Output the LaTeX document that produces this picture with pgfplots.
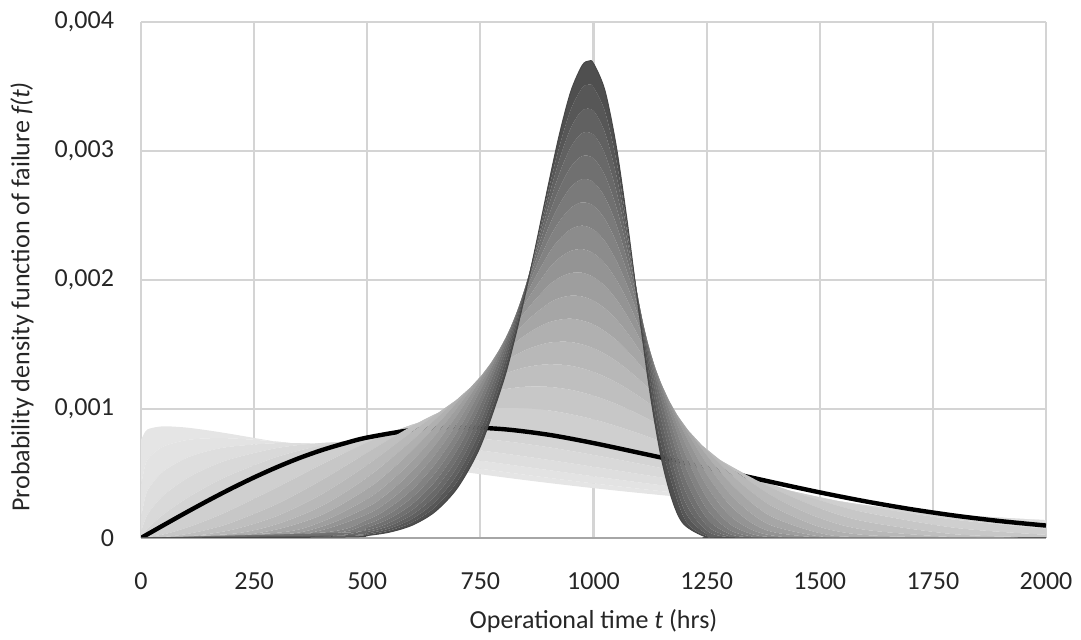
\documentclass[border=0pt]{standalone}
\usepackage{fontspec}
\setmainfont{Carlito}
\usepackage{pgfplots}
\pgfplotsset{compat=1.18}
\usepgfplotslibrary{fillbetween}
\begin{document}
\begin{tikzpicture}
\tikzset{fill between/on layer=main}
\begin{axis}[
  scale only axis, width=452.5pt, height=258pt,
  xmin=0, xmax=2000, ymin=0, ymax=4,
  xtick={0,250,500,750,1000,1250,1500,1750,2000},
  xticklabels={0,250,500,750,1000,1250,1500,1750,2000},
  ytick={0,1,2,3,4}, yticklabels={0,{0,001},{0,002},{0,003},{0,004}},
  grid=major, major grid style={draw=black!17, line width=1.1pt},
  axis line style={draw=none}, tick style={draw=none},
  ticklabel style={font=\fontsize{13}{15.6}\selectfont, text=black!85},
  xticklabel style={yshift=-14pt},
  yticklabel style={xshift=-10pt},
  xlabel={Operational time \textit{t} (hrs)},
  ylabel={Probability density function of failure \textit{f(t)}},
  label style={font=\fontsize{13}{15.6}\selectfont, text=black!85},
  xlabel style={at={(axis description cs:0.5,-0.161)}, anchor=center},
  ylabel style={at={(axis description cs:-0.1315,0.467)}, anchor=center},
  extra y ticks={0}, extra y tick labels={},
  extra y tick style={grid=major, major grid style={draw=black!35, line width=1.3pt}},
  curve/.style={draw=none, smooth, tension=0.5},
]
% ---- Weibull family curves (values in units of 0.001) ----
\addplot[name path=c105, curve] coordinates {(0,0.76) (10,0.8274) (20,0.8493) (50,0.8659) (100,0.8561) (150,0.8332) (200,0.8056) (300,0.7454) (400,0.6845) (500,0.6257) (600,0.5703) (700,0.5186) (800,0.4707) (900,0.4267) (1000,0.3863) (1100,0.3494) (1200,0.3157) (1300,0.2850) (1400,0.2571) (1500,0.2319) (1600,0.2089) (1800,0.1694) (2000,0.1371)};
\addplot[name path=c115, curve] coordinates {(0,0.41) (10,0.5735) (20,0.6325) (50,0.7107) (100,0.7585) (150,0.7729) (200,0.7720) (300,0.7473) (400,0.7073) (500,0.6605) (600,0.6110) (700,0.5614) (800,0.5131) (900,0.4668) (1000,0.4231) (1100,0.3822) (1200,0.3443) (1300,0.3094) (1400,0.2774) (1500,0.2482) (1600,0.2217) (1800,0.1759) (2000,0.1387)};
\addplot[name path=c130, curve] coordinates {(0,0.16) (10,0.3257) (20,0.3995) (50,0.5186) (100,0.6197) (150,0.6759) (200,0.7090) (300,0.7350) (400,0.7288) (500,0.7035) (600,0.6666) (700,0.6228) (800,0.5754) (900,0.5266) (1000,0.4782) (1100,0.4313) (1200,0.3866) (1300,0.3446) (1400,0.3056) (1500,0.2698) (1600,0.2372) (1800,0.1811) (2000,0.1364)};
\addplot[name path=c150, curve] coordinates {(0,0.05) (10,0.1499) (20,0.2115) (50,0.3317) (100,0.4596) (150,0.5482) (200,0.6134) (300,0.6971) (400,0.7366) (500,0.7448) (600,0.7300) (700,0.6987) (800,0.6560) (900,0.6059) (1000,0.5518) (1100,0.4963) (1200,0.4414) (1300,0.3885) (1400,0.3386) (1500,0.2926) (1600,0.2507) (1800,0.1799) (2000,0.1254)};
\addplot[name path=c175, curve] coordinates {(0,0) (10,0.0553) (20,0.0930) (50,0.1841) (100,0.3057) (150,0.4069) (200,0.4930) (300,0.6281) (400,0.7198) (500,0.7729) (600,0.7925) (700,0.7838) (800,0.7524) (900,0.7040) (1000,0.6438) (1100,0.5767) (1200,0.5069) (1300,0.4376) (1400,0.3716) (1500,0.3105) (1600,0.2557) (1800,0.1658) (2000,0.1018)};
\addplot[name path=c200, curve] coordinates {(0,0) (10,0.0200) (20,0.0400) (50,0.0998) (100,0.1980) (150,0.2933) (200,0.3843) (300,0.5484) (400,0.6817) (500,0.7788) (600,0.8372) (700,0.8577) (800,0.8437) (900,0.8007) (1000,0.7358) (1100,0.6560) (1200,0.5686) (1300,0.4798) (1400,0.3944) (1500,0.3162) (1600,0.2474) (1800,0.1410) (2000,0.0733)};
\addplot[name path=c250, curve] coordinates {(0,0) (50,0.0280) (100,0.0788) (150,0.1440) (200,0.2196) (300,0.3910) (400,0.5716) (500,0.7407) (600,0.8792) (700,0.9717) (800,1.0092) (900,0.9898) (1000,0.9197) (1100,0.8108) (1200,0.6785) (1300,0.5394) (1400,0.4073) (1500,0.2919) (1600,0.1985) (1800,0.0782) (2000,0.0247)};
\addplot[name path=c300, curve] coordinates {(0,0) (50,0.0075) (100,0.0300) (150,0.0673) (200,0.1190) (300,0.2628) (400,0.4502) (500,0.6619) (600,0.8702) (700,1.0431) (750,1.1067) (800,1.1507) (850,1.1728) (900,1.1719) (950,1.1487) (1000,1.1036) (1050,1.0395) (1100,0.9591) (1150,0.8669) (1200,0.7676) (1250,0.6650) (1300,0.5635) (1350,0.4670) (1400,0.3781) (1500,0.2310) (1600,0.1278) (1800,0.0285) (2000,0.0040)};
\addplot[name path=c350, curve] coordinates {(0,0) (100,0.0111) (200,0.0624) (300,0.1700) (400,0.3401) (500,0.5664) (600,0.8256) (700,1.0769) (750,1.1832) (800,1.2674) (850,1.3235) (900,1.3468) (950,1.3349) (1000,1.2876) (1050,1.2075) (1100,1.0998) (1150,0.9717) (1200,0.8316) (1250,0.6887) (1300,0.5509) (1400,0.3158) (1500,0.1546) (1600,0.0637) (1800,0.0061) (2000,0)};
\addplot[name path=c400, curve] coordinates {(0,0) (200,0.0319) (300,0.1071) (400,0.2495) (500,0.4697) (600,0.7591) (700,1.0792) (750,1.2298) (800,1.3597) (850,1.4575) (900,1.5130) (950,1.5188) (1000,1.4715) (1050,1.3732) (1100,1.2312) (1150,1.0582) (1200,0.8692) (1250,0.6801) (1300,0.5052) (1350,0.3552) (1400,0.2356) (1500,0.0855) (1600,0.0233) (1800,0.001) (2000,0)};
\addplot[name path=c450, curve] coordinates {(0,0) (200,0.0161) (300,0.0663) (400,0.1792) (500,0.3806) (550,0.5188) (600,0.6810) (650,0.8628) (700,1.0564) (750,1.2501) (800,1.4286) (850,1.5746) (900,1.6702) (950,1.7000) (1000,1.6555) (1050,1.5362) (1100,1.3528) (1150,1.1249) (1200,0.8789) (1250,0.6410) (1300,0.4343) (1350,0.2712) (1400,0.1550) (1500,0.0377) (1600,0.006) (2000,0)};
\addplot[name path=c500, curve] coordinates {(0,0) (300,0.0404) (400,0.1267) (500,0.3029) (550,0.4351) (600,0.5995) (650,0.7948) (700,1.0148) (750,1.2479) (800,1.4758) (850,1.6748) (900,1.8176) (925,1.8597) (950,1.8786) (975,1.8722) (1000,1.8394) (1025,1.7803) (1050,1.6960) (1075,1.5889) (1100,1.4626) (1125,1.3212) (1150,1.1702) (1200,0.8611) (1250,0.5772) (1300,0.3486) (1350,0.1874) (1400,0.0887) (1500,0.0127) (1600,0) (2000,0)};
\addplot[name path=c550, curve] coordinates {(0,0) (300,0.0244) (400,0.0885) (500,0.2378) (550,0.3596) (600,0.5199) (650,0.7209) (700,0.9599) (750,1.2271) (800,1.5031) (850,1.7583) (900,1.9551) (925,2.0191) (950,2.0538) (975,2.0561) (1000,2.0233) (1025,1.9549) (1050,1.8523) (1075,1.7188) (1100,1.5596) (1125,1.3818) (1150,1.1935) (1200,0.8181) (1250,0.4950) (1300,0.2599) (1350,0.1159) (1400,0.0431) (1500,0.0031) (1600,0) (2000,0)};
\addplot[name path=c600, curve] coordinates {(0,0) (300,0.0146) (400,0.0612) (500,0.1846) (550,0.2937) (600,0.4453) (650,0.6456) (700,0.8965) (750,1.1917) (800,1.5127) (850,1.8259) (900,2.0824) (925,2.1718) (950,2.2260) (975,2.2392) (1000,2.2073) (1025,2.1289) (1050,2.0050) (1075,1.8405) (1100,1.6435) (1125,1.4239) (1150,1.1944) (1200,0.7538) (1250,0.4037) (1300,0.1785) (1350,0.0633) (1400,0.0173) (1500,0) (2000,0)};
\addplot[name path=c650, curve] coordinates {(0,0) (400,0.0420) (500,0.1421) (550,0.2377) (600,0.3776) (650,0.5722) (700,0.8284) (750,1.1450) (800,1.5069) (850,1.8781) (900,2.1993) (925,2.3176) (950,2.3946) (975,2.4213) (1000,2.3912) (1025,2.3012) (1050,2.1533) (1075,1.9532) (1100,1.7125) (1125,1.4470) (1150,1.1735) (1200,0.6727) (1250,0.3118) (1300,0.1121) (1350,0.0299) (1400,0.0056) (1500,0) (2000,0)};
\addplot[name path=c700, curve] coordinates {(0,0) (400,0.0287) (500,0.1085) (550,0.1908) (600,0.3176) (650,0.5027) (700,0.7584) (750,1.0902) (800,1.4879) (850,1.9160) (900,2.3059) (925,2.4564) (950,2.5595) (975,2.6023) (1000,2.5752) (1025,2.4729) (1050,2.2970) (1075,2.0559) (1100,1.7665) (1125,1.4506) (1150,1.1324) (1200,0.5807) (1250,0.2269) (1300,0.0636) (1350,0.0120) (1400,0) (2000,0)};
\addplot[name path=c750, curve] coordinates {(0,0) (450,0.0417) (500,0.0824) (550,0.1522) (600,0.2652) (650,0.4384) (700,0.6891) (750,1.0298) (800,1.4578) (850,1.9406) (900,2.4021) (925,2.5879) (950,2.7206) (975,2.7822) (1000,2.7591) (1025,2.6431) (1050,2.4356) (1075,2.1490) (1100,1.8052) (1125,1.4352) (1150,1.0733) (1200,0.4842) (1250,0.1548) (1300,0.0322) (1350,0.004) (1400,0) (2000,0)};
\addplot[name path=c800, curve] coordinates {(0,0) (400,0.0131) (500,0.0623) (550,0.1208) (600,0.2202) (650,0.3799) (700,0.6219) (750,0.9661) (800,1.4186) (850,1.9529) (900,2.4878) (925,2.7122) (950,2.8779) (975,2.9611) (1000,2.9430) (1025,2.8121) (1050,2.5694) (1075,2.2307) (1100,1.8277) (1125,1.4024) (1150,0.9987) (1200,0.3890) (1250,0.0984) (1300,0.0144) (1350,0) (2000,0)};
\addplot[name path=c850, curve] coordinates {(0,0) (450,0.0210) (500,0.0468) (550,0.0954) (600,0.1819) (650,0.3274) (700,0.5581) (750,0.9011) (800,1.3723) (850,1.9542) (900,2.5638) (925,2.8290) (950,3.0306) (975,3.1387) (1000,3.1270) (1025,2.9793) (1050,2.6966) (1075,2.3010) (1100,1.8339) (1125,1.3528) (1150,0.9119) (1200,0.3003) (1250,0.0579) (1300,0.0056) (1350,0) (2000,0)};
\addplot[name path=c900, curve] coordinates {(0,0) (450,0.0151) (500,0.0352) (550,0.0750) (600,0.1497) (650,0.2809) (700,0.4983) (750,0.8358) (800,1.3203) (850,1.9454) (900,2.6299) (925,2.9381) (950,3.1793) (975,3.3150) (1000,3.3109) (1025,3.1454) (1050,2.8187) (1075,2.3603) (1100,1.8247) (1125,1.2876) (1150,0.8169) (1200,0.2224) (1250,0.0312) (1300,0) (2000,0)};
\addplot[name path=c950, curve] coordinates {(0,0) (450,0.0107) (500,0.0262) (550,0.0588) (600,0.1226) (650,0.2400) (700,0.4430) (750,0.7719) (800,1.2644) (850,1.9278) (900,2.6863) (925,3.0400) (950,3.3234) (975,3.4900) (990,3.5143) (1000,3.4949) (1025,3.3100) (1050,2.9342) (1075,2.4065) (1100,1.8011) (1125,1.2107) (1150,0.7165) (1200,0.1571) (1250,0.0153) (1300,0) (2000,0)};
\addplot[name path=c1000, curve] coordinates {(0,0) (450,0.0076) (500,0.0195) (550,0.0460) (600,0.1002) (650,0.2044) (700,0.3923) (750,0.7097) (800,1.2055) (825,1.5300) (850,1.9023) (875,2.3110) (900,2.7338) (925,3.1341) (950,3.4634) (975,3.6634) (990,3.6978) (1000,3.6788) (1025,3.4721) (1050,3.0430) (1075,2.4412) (1100,1.7628) (1125,1.1220) (1150,0.6155) (1175,0.2830) (1200,0.1056) (1250,0.0067) (1300,0) (2000,0)};
% ---- light part of the family ----
\addplot[fill=black!10, draw=none] fill between[of=c105 and c115];
\addplot[fill=black!11, draw=none] fill between[of=c115 and c130];
\addplot[fill=black!13, draw=none] fill between[of=c130 and c150];
\addplot[fill=black!15, draw=none] fill between[of=c150 and c175];
\addplot[fill=black!17, draw=none] fill between[of=c175 and c200];
\addplot[fill=black!19, draw=none] fill between[of=c200 and c250];
\addplot[fill=black!22, draw=none] fill between[of=c250 and c300];
% ---- black curve ----
\addplot[black, line width=2.2pt, smooth] coordinates {(0,0) (50,0.0998) (100,0.198) (150,0.2933) (200,0.3843) (250,0.4697) (300,0.5484) (350,0.6199) (400,0.6817) (450,0.7338) (500,0.7788) (600,0.8372) (700,0.8577) (800,0.8437) (900,0.8007) (1000,0.7358) (1100,0.661) (1200,0.585) (1300,0.507) (1400,0.429) (1500,0.3536) (1600,0.2847) (1700,0.2242) (1800,0.1728) (1900,0.1305) (2000,0.0964)};
% ---- dark part of the family ----
\addplot[fill=black!25, draw=none] fill between[of=c300 and c350];
\addplot[fill=black!28, draw=none] fill between[of=c350 and c400];
\addplot[fill=black!31, draw=none] fill between[of=c400 and c450];
\addplot[fill=black!35, draw=none] fill between[of=c450 and c500];
\addplot[fill=black!38, draw=none] fill between[of=c500 and c550];
\addplot[fill=black!42, draw=none] fill between[of=c550 and c600];
\addplot[fill=black!45, draw=none] fill between[of=c600 and c650];
\addplot[fill=black!49, draw=none] fill between[of=c650 and c700];
\addplot[fill=black!52, draw=none] fill between[of=c700 and c750];
\addplot[fill=black!56, draw=none] fill between[of=c750 and c800];
\addplot[fill=black!59, draw=none] fill between[of=c800 and c850];
\addplot[fill=black!62, draw=none] fill between[of=c850 and c900];
\addplot[fill=black!66, draw=none] fill between[of=c900 and c950];
\addplot[fill=black!69, draw=none] fill between[of=c950 and c1000];
\addplot[black!72, line width=0.5pt, smooth, tension=0.5] coordinates {(0,0) (450,0.0076) (500,0.0195) (550,0.0460) (600,0.1002) (650,0.2044) (700,0.3923) (750,0.7097) (800,1.2055) (825,1.5300) (850,1.9023) (875,2.3110) (900,2.7338) (925,3.1341) (950,3.4634) (975,3.6634) (990,3.6978) (1000,3.6788) (1025,3.4721) (1050,3.0430) (1075,2.4412) (1100,1.7628) (1125,1.1220) (1150,0.6155) (1175,0.2830) (1200,0.1056) (1250,0.0067) (1300,0) (2000,0)};
\end{axis}
\path ([xshift=-70.5pt,yshift=-49.5pt]current axis.south west) rectangle ([xshift=17.5pt,yshift=11pt]current axis.north east);
\end{tikzpicture}
\end{document}
